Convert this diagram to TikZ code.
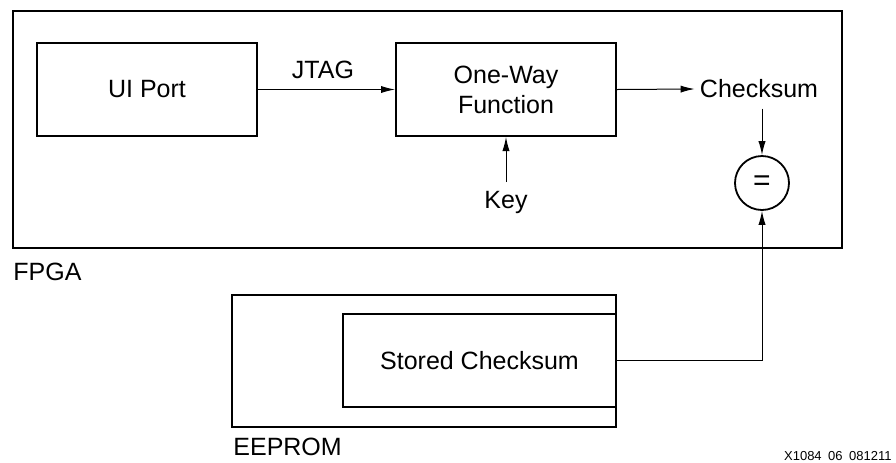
\documentclass[tikz,border=0pt]{standalone}
\usepackage{fontspec}
\setmainfont{Liberation Sans}
\usetikzlibrary{positioning, arrows.meta, shapes}

\tikzset{
	blk/.style={draw, line width=1pt, inner sep=0pt, font=\fontsize{12.5}{15}\selectfont},
	lbl/.style={inner sep=1pt, font=\fontsize{12.5}{15}\selectfont},
	arr/.style={-{Latex[length=7pt,width=3.6pt]}, line width=0.5pt},
}

\begin{document}
\begin{tikzpicture}[x=0.5pt, y=-0.5pt]
	\useasboundingbox (0,0) rectangle (896,462);

	\node[blk, minimum width=414.5pt, minimum height=118.5pt] (fpga) at (427.5,129.5) {};
	\node[lbl, anchor=west] (fpgalbl) at (11,272) {FPGA};

	\node[blk, minimum width=110pt, minimum height=46.5pt] (ui) at (147,89.5) {UI Port};
	\node[blk, minimum width=110pt, minimum height=46.5pt, align=center] (owf) at (506,89.5) {One-Way\\Function};
	\node[lbl] (jtag) at (323,70) {JTAG};
	\node[lbl, inner ysep=4.5pt, anchor=north] (key) at (506,182) {Key};
	\node[lbl, inner xsep=2.5pt, inner ysep=5pt] (chk) at (759,89) {Checksum};
	\node[blk, circle, line width=0.9pt, minimum size=27pt, font=\fontsize{15}{18}\selectfont] (eq) at (762,183) {=};

	\node[blk, minimum width=192pt, minimum height=66pt] (eeprom) at (424,361) {};
	\node[lbl, anchor=west] (eepromlbl) at (231,447) {EEPROM};
	\node[blk, minimum width=136.5pt, minimum height=46.5pt] (stored) at (479.5,360.5) {Stored Checksum};

	\draw[arr] (ui.east |- owf.west) -- (owf.west);
	\draw[arr] (key.north) -- (owf.south);
	\draw[arr] (owf.east) -- (chk.west);
	\draw[arr] (eq.north |- chk.south) -- (eq.north);
	\draw[arr] (stored.east) -| (eq.south);

	\node[anchor=east, inner sep=0pt, font=\fontsize{6.5}{8}\selectfont] (fignum) at (892,456) {X1084\enspace 06\enspace 081211};
\end{tikzpicture}
\end{document}
